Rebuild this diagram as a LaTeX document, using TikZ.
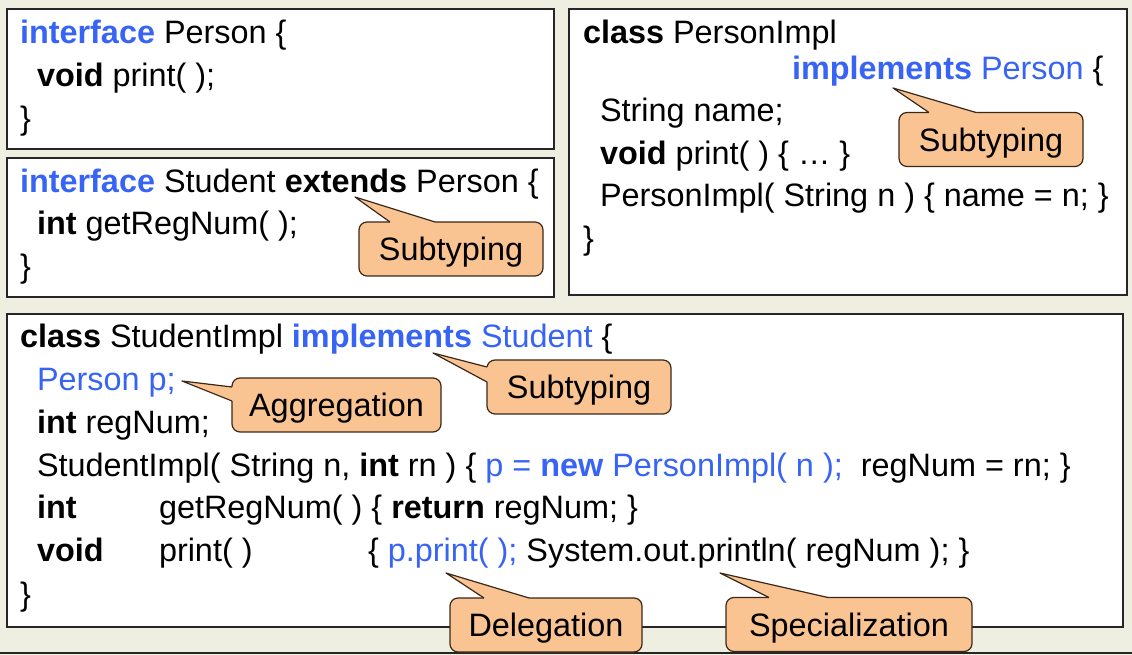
\documentclass[tikz,border=0pt]{standalone}
\usepackage{fontspec}
\setmainfont{Liberation Sans}
\usetikzlibrary{calc}
\definecolor{bgc}{RGB}{239,239,225}
\definecolor{jblue}{RGB}{55,100,245}
\definecolor{calfillc}{RGB}{250,195,146}
\definecolor{callinec}{RGB}{60,40,25}
\newcommand\kw[1]{\textbf{#1}}
\newcommand\bl[1]{\textcolor{jblue}{#1}}
\newcommand\mkTailTop[4]{%
  \fill[calfillc] (#2) -- ($(#1.north west)+(#3,0)$) -- ($(#1.north west)+(#3,2)$) -- ($(#1.north west)+(#4,2)$) -- ($(#1.north west)+(#4,0)$) -- cycle;
  \draw[calline] ($(#1.north west)+(#3,0)$) -- (#2) -- ($(#1.north west)+(#4,0)$);}
\newcommand\mkTailLeft[4]{%
  \fill[calfillc] (#2) -- ($(#1.north west)+(0,#3)$) -- ($(#1.north west)+(2,#3)$) -- ($(#1.north west)+(2,#4)$) -- ($(#1.north west)+(0,#4)$) -- cycle;
  \draw[calline] ($(#1.north west)+(0,#3)$) -- (#2) -- ($(#1.north west)+(0,#4)$);}
\tikzset{
  code/.style={anchor=base west, inner sep=0pt, outer sep=0pt, font=\fontsize{24.3}{28}\selectfont},
  boxline/.style={draw=black!85, line width=1.1pt, fill=white},
  calline/.style={draw=callinec, line width=0.9pt, line join=round},
  callout/.style={draw=callinec, line width=0.9pt, fill=calfillc, rounded corners=6pt, inner sep=0pt, outer sep=0pt, font=\fontsize{24.3}{28}\selectfont, minimum height=40.5pt, text depth=0pt},
}
\begin{document}
\begin{tikzpicture}[x=0.75pt,y=-0.75pt]
\useasboundingbox (0,0) rectangle (1132,655);
\fill[bgc] (0,0) rectangle (1132,655);
% boxes
\draw[boxline] (7,9) rectangle (554,149);
\draw[boxline] (7,158) rectangle (554,297);
\draw[boxline] (569,9) rectangle (1127,295);
\draw[boxline] (7,314) rectangle (1123,627);
\draw[black!85, line width=1.1pt] (0,653) -- (1132,653);
% box 1
\node[code] (a1) at (20,44) {\bl{\kw{interface}} Person \{};
\node[code] (a2) at (37,87) {\kw{void} print( );};
\node[code] (a3) at (20,130) {\}};
% box 2
\node[code] (b1) at (20,193) {\bl{\kw{interface}} Student \kw{extends} Person \{};
\node[code] (b2) at (37,235) {\kw{int} getRegNum( );};
\node[code] (b3) at (20,278) {\}};
% box 3
\node[code] (c1) at (583,44) {\kw{class} PersonImpl};
\node[code] (c2) at (792,80) {\bl{\kw{implements} Person} \{};
\node[code] (c3) at (600,122) {String name;};
\node[code] (c4) at (600,165) {\kw{void} print( ) \{ … \}};
\node[code] (c5) at (600,207) {PersonImpl( String n ) \{ name = n; \}};
\node[code] (c6) at (583,250) {\}};
% box 4
\node[code] (d1) at (20,348) {\kw{class} StudentImpl \bl{\kw{implements} Student} \{};
\node[code] (d2) at (37,391) {\bl{Person p;}};
\node[code] (d3) at (37,434) {\kw{int} regNum;};
\node[code] (d4) at (37,477) {StudentImpl( String n, \kw{int} rn ) \{ \bl{p = \kw{new} PersonImpl( n );}\ \ regNum = rn; \}};
\node[code] (d5) at (37,519) {\kw{int}};
\node[code] (d5b) at (159,519) {getRegNum( ) \{ \kw{return} regNum; \}};
\node[code] (d6) at (37,562) {\kw{void}};
\node[code] (d6b) at (159,562) {print( )};
\node[code] (d6c) at (368,562) {\{ \bl{p.print( );} System.out.println( regNum ); \}};
\node[code] (d7) at (20,605) {\}};
% callouts
\node[callout, minimum width=138pt] (k1) at (451,249) {Subtyping};
\coordinate (t1) at (355,197);
\mkTailTop{k1}{t1}{31}{76}
\node[callout, minimum width=138pt] (k2) at (991,139.5) {Subtyping};
\coordinate (t2) at (893,88);
\mkTailTop{k2}{t2}{30}{77}
\node[callout, minimum width=138pt] (k3) at (579,387) {Subtyping};
\coordinate (t3) at (433,353);
\mkTailLeft{k3}{t3}{7}{22}
\node[callout, minimum width=156.75pt] (k4) at (336.5,405) {Aggregation};
\coordinate (t4) at (182,381);
\mkTailLeft{k4}{t4}{9}{23}
\node[callout, minimum width=144pt] (k5) at (546,625) {Delegation};
\coordinate (t5) at (446,573);
\mkTailTop{k5}{t5}{34}{79}
\node[callout, minimum width=184.5pt] (k6) at (849,624.5) {Specialization};
\coordinate (t6) at (720,573);
\mkTailTop{k6}{t6}{43}{102}
\end{tikzpicture}
\end{document}
